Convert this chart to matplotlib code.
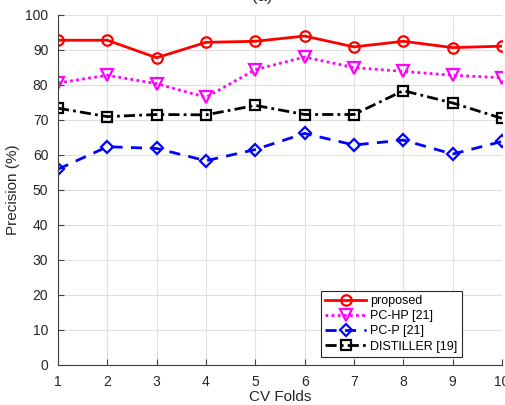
import numpy as np
import matplotlib.pyplot as plt

plt.rcParams['font.family'] = ['Liberation Sans', 'DejaVu Sans']

folds = [1, 2, 3, 4, 5, 6, 7, 8, 9, 10]
proposed = [92.7, 92.7, 87.7, 92.1, 92.4, 93.9, 90.8, 92.4, 90.6, 91.0]
pc_hp = [80.5, 82.7, 80.3, 76.4, 84.3, 87.9, 84.9, 83.8, 82.7, 82.0]
pc_p = [55.9, 62.3, 61.8, 58.3, 61.5, 66.1, 62.8, 64.2, 60.2, 63.8]
distiller = [73.3, 70.9, 71.5, 71.4, 74.1, 71.5, 71.5, 78.3, 74.8, 70.4]

fig = plt.figure(figsize=(5.05, 4.05), dpi=100)
ax = fig.add_axes([0.1149, 0.0988, 0.879, 0.865])

ax.plot(folds, proposed, color='red', lw=2, marker='o', ms=7.5, mfc='none', mew=1.6,
        label='proposed')
ax.plot(folds, pc_hp, color='magenta', lw=2, ls=(0, (1, 1.2)), marker='v', ms=8.5,
        mfc='none', mew=1.6, label='PC-HP [21]')
ax.plot(folds, pc_p, color='blue', lw=2, ls=(0, (4, 3)), marker='D', ms=6.5,
        mfc='none', mew=1.6, label='PC-P [21]')
ax.plot(folds, distiller, color='black', lw=2, ls=(0, (4, 1.5, 1, 1.5)), marker='s',
        ms=6.5, mfc='none', mew=1.6, label='DISTILLER [19]')

ax.set_xlim(1, 10)
ax.set_ylim(0, 100)
ax.set_xticks(folds)
ax.set_yticks(np.arange(0, 101, 10))
ax.grid(True, color='#e0e0e0', lw=0.8)
ax.set_axisbelow(True)
for s in ['top', 'right']:
    ax.spines[s].set_visible(False)
for s in ['left', 'bottom']:
    ax.spines[s].set_color('#404040')
ax.tick_params(direction='in', length=4, colors='#404040', labelsize=10,
               labelcolor='#262626', pad=7)
ax.set_xlabel('CV Folds', fontsize=11, color='#262626', labelpad=1)
ax.set_ylabel('Precision (%)', fontsize=11, color='#262626', labelpad=4)

leg = ax.legend(loc='lower left', bbox_to_anchor=(0.592, 0.023), fontsize=9,
                handlelength=3.3, fancybox=False, framealpha=1, edgecolor='#262626',
                borderpad=0.35, labelspacing=0.25, handletextpad=0.3,
                borderaxespad=0)
leg.get_frame().set_linewidth(0.8)

fig.text(0.52, 1 - 1 / 405, '(a)', ha='center', va='baseline', fontsize=12,
         color='#262626')

fig.savefig('out.png', dpi=100)
